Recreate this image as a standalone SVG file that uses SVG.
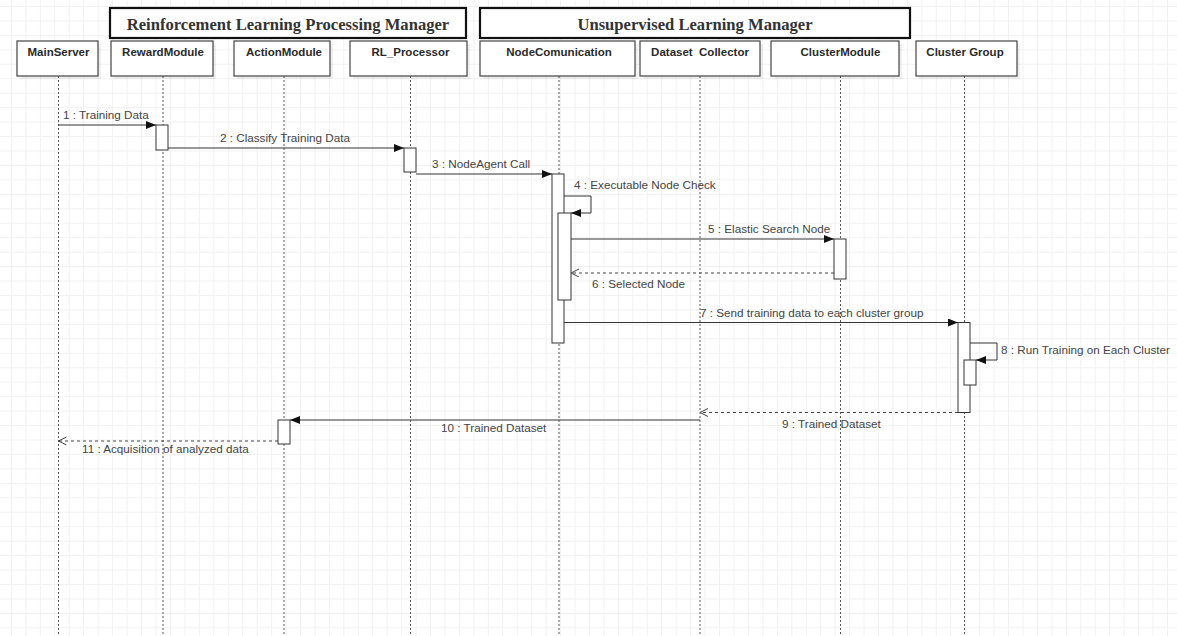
<svg xmlns="http://www.w3.org/2000/svg" width="1177" height="636" viewBox="0 0 1177 636">
<style>
.grp{fill:#fff;stroke:#111;stroke-width:2.2}
.gt{font-family:"Liberation Serif","Times New Roman",serif;font-weight:bold;font-size:16.6px;fill:#333;text-anchor:middle}
.nb{fill:#fff;stroke:#444;stroke-width:1.2}
.sh{fill:#000;opacity:0.06}
.nt{font-family:"Liberation Sans",Arial,sans-serif;font-weight:bold;font-size:11.5px;fill:#2a2a2a;text-anchor:middle}
.life{stroke:#555;stroke-width:1;stroke-dasharray:2,2;fill:none}
.act{fill:#fff;stroke:#333;stroke-width:1}
.msg{stroke:#333;stroke-width:1;fill:none}
.ret{stroke:#444;stroke-width:1;fill:none;stroke-dasharray:3,3}
.lbl{font-family:"Liberation Sans",Arial,sans-serif;font-size:11.7px;fill:#444}
</style>
<defs>
<pattern id="grid" patternUnits="userSpaceOnUse" x="11" y="6" width="14.45" height="14.45">
<path d="M0,0.5 H14.45 M0.5,0 V14.45" stroke="#f1f1f1" stroke-width="1" fill="none"/>
</pattern>
<marker id="fill" markerUnits="userSpaceOnUse" markerWidth="11" markerHeight="8" refX="10" refY="4" orient="auto">
<path d="M0,0 L10,4 L0,8 Z" fill="#111"/>
</marker>
<marker id="open" markerUnits="userSpaceOnUse" markerWidth="10" markerHeight="10" refX="8" refY="4" orient="auto">
<path d="M0,0 L8,4 L0,8" fill="none" stroke="#444" stroke-width="1"/>
</marker>
</defs>
<rect width="1177" height="636" fill="#fff"/>
<rect width="1177" height="636" fill="url(#grid)"/>

<g id="group-rl">
<rect class="grp" x="110" y="8" width="356" height="30"/>
<text class="gt" x="288" y="29.5">Reinforcement Learning Processing Manager</text>
</g>
<g id="group-ul">
<rect class="grp" x="480" y="8" width="430" height="30"/>
<text class="gt" x="695" y="29.5">Unsupervised Learning Manager</text>
</g>

<g id="lifelines">
<line class="life" x1="58.5" y1="76" x2="58.5" y2="636"/>
<line class="life" x1="163" y1="76" x2="163" y2="636"/>
<line class="life" x1="284" y1="76" x2="284" y2="636"/>
<line class="life" x1="410.5" y1="76" x2="410.5" y2="636"/>
<line class="life" x1="559" y1="76" x2="559" y2="636"/>
<line class="life" x1="700" y1="76" x2="700" y2="636"/>
<line class="life" x1="840.5" y1="76" x2="840.5" y2="636"/>
<line class="life" x1="964.5" y1="76" x2="964.5" y2="636"/>
</g>

<g id="MainServer">
<rect class="sh" x="20" y="44" width="81" height="35"/>
<rect class="nb" x="17" y="41" width="81" height="35"/>
<text class="nt" x="58.5" y="56">MainServer</text>
</g>
<g id="RewardModule">
<rect class="sh" x="114" y="44" width="102" height="35"/>
<rect class="nb" x="111" y="41" width="102" height="35"/>
<text class="nt" x="163" y="56">RewardModule</text>
<rect class="act" x="156" y="125" width="12" height="25"/>
</g>
<g id="ActionModule">
<rect class="sh" x="237" y="44" width="96" height="35"/>
<rect class="nb" x="234" y="41" width="96" height="35"/>
<text class="nt" x="284" y="56">ActionModule</text>
<rect class="act" x="278" y="420" width="12" height="24"/>
</g>
<g id="RL_Processor">
<rect class="sh" x="353" y="44" width="117" height="35"/>
<rect class="nb" x="350" y="41" width="117" height="35"/>
<text class="nt" x="410.5" y="56">RL_Processor</text>
<rect class="act" x="404" y="148" width="12" height="24"/>
</g>
<g id="NodeComunication">
<rect class="sh" x="483" y="44" width="155" height="35"/>
<rect class="nb" x="480" y="41" width="155" height="35"/>
<text class="nt" x="559" y="56">NodeComunication</text>
<rect class="act" x="552" y="174" width="12" height="169"/>
<rect class="act" x="558" y="213" width="13" height="87"/>
</g>
<g id="DatasetCollector">
<rect class="sh" x="643" y="44" width="120" height="35"/>
<rect class="nb" x="640" y="41" width="120" height="35"/>
<text class="nt" x="700" y="56" xml:space="preserve">Dataset  Collector</text>
</g>
<g id="ClusterModule">
<rect class="sh" x="774" y="44" width="128" height="35"/>
<rect class="nb" x="771" y="41" width="128" height="35"/>
<text class="nt" x="840.5" y="56">ClusterModule</text>
<rect class="act" x="834" y="239" width="12" height="40"/>
</g>
<g id="ClusterGroup">
<rect class="sh" x="919" y="44" width="101" height="35"/>
<rect class="nb" x="916" y="41" width="101" height="35"/>
<text class="nt" x="965" y="56">Cluster Group</text>
<rect class="act" x="958" y="322.5" width="12" height="90"/>
<rect class="act" x="964" y="360" width="12" height="25"/>
</g>

<g id="connectors">
<line class="msg" x1="58.5" y1="125" x2="156" y2="125" marker-end="url(#fill)"/>
<line class="msg" x1="168" y1="148" x2="404" y2="148" marker-end="url(#fill)"/>
<line class="msg" x1="416" y1="174" x2="552" y2="174" marker-end="url(#fill)"/>
<path class="msg" d="M564,196 H591 V213 H571" marker-end="url(#fill)"/>
<line class="msg" x1="571" y1="239" x2="834" y2="239" marker-end="url(#fill)"/>
<line class="ret" x1="834" y1="273" x2="571" y2="273" marker-end="url(#open)"/>
<line class="msg" x1="564" y1="322.5" x2="958" y2="322.5" marker-end="url(#fill)"/>
<path class="msg" d="M970,343 H997 V360 H976" marker-end="url(#fill)"/>
<line class="ret" x1="958" y1="412.5" x2="700" y2="412.5" marker-end="url(#open)"/>
<line class="msg" x1="700" y1="420" x2="290" y2="420" marker-end="url(#fill)"/>
<line class="ret" x1="278" y1="441" x2="58.5" y2="441" marker-end="url(#open)"/>
</g>

<g id="labels">
<text class="lbl" x="63" y="119">1 : Training Data</text>
<text class="lbl" x="220" y="142">2 : Classify Training Data</text>
<text class="lbl" x="432" y="168">3 : NodeAgent Call</text>
<text class="lbl" x="574" y="189">4 : Executable Node Check</text>
<text class="lbl" x="708" y="233">5 : Elastic Search Node</text>
<text class="lbl" x="592" y="288">6 : Selected Node</text>
<text class="lbl" x="700" y="317">7 : Send training data to each cluster group</text>
<text class="lbl" x="1001" y="354">8 : Run Training on Each Cluster</text>
<text class="lbl" x="782" y="428">9 : Trained Dataset</text>
<text class="lbl" x="441" y="432">10 : Trained Dataset</text>
<text class="lbl" x="82" y="453">11 : Acquisition of analyzed data</text>
</g>
</svg>
